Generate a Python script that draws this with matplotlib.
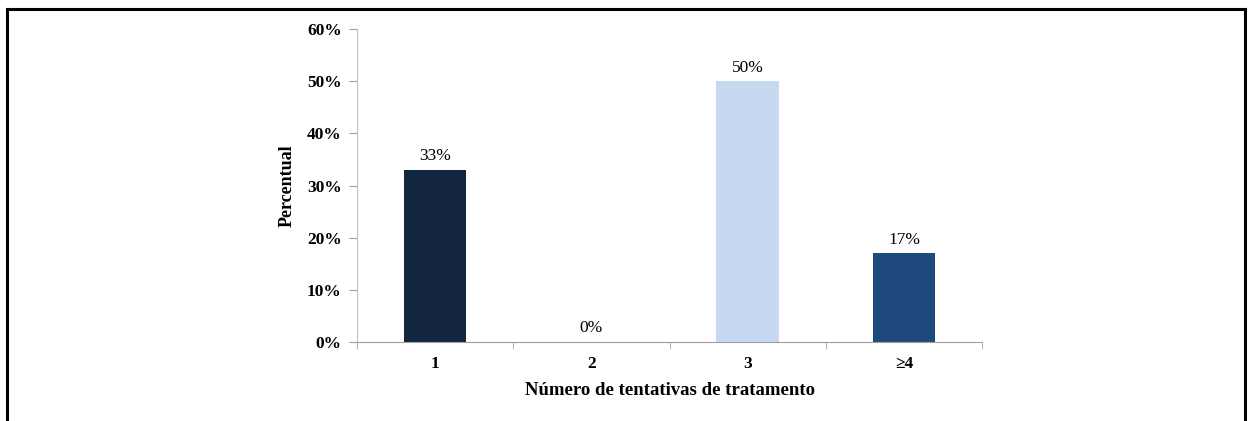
import matplotlib
matplotlib.use("Agg")
import matplotlib.pyplot as plt
import numpy as np
from matplotlib.lines import Line2D
from matplotlib.ticker import FixedLocator, PercentFormatter

categorias = ["1", "2", "3", "\u22654"]
percentual = [33, 0, 50, 17]
cores = ["#13263F", "#4F81BD", "#C6D9F1", "#1F497D"]
yticks = [0, 10, 20, 30, 40, 50, 60]

plt.rcParams["font.family"] = ["Liberation Serif", "DejaVu Serif"]


def init():
    fig = plt.figure(figsize = (12.48, 4.21), dpi = 100)
    ax = fig.add_axes([0.286, 0.1876, 0.501, 0.7434])

    x = np.arange(len(categorias))
    ax.bar(x, percentual, width = 0.4, color = cores, zorder = 2)

    for xi, v in zip(x, percentual):
        ax.annotate("{}%".format(v), (xi, v), xytext = (0, 4), textcoords = "offset points",
                    ha = "center", va = "bottom", fontsize = 12.5)

    ax.set_xlim(-0.5, len(categorias) - 0.5)
    ax.set_ylim(0, 60)
    ax.set_yticks(yticks)
    ax.yaxis.set_major_formatter(PercentFormatter(decimals = 0))

    ax.set_xticks(x)
    ax.set_xticklabels(categorias)
    ax.xaxis.set_minor_locator(FixedLocator(np.arange(len(categorias) + 1) - 0.5))
    ax.tick_params(axis = "x", which = "major", length = 0, pad = 10)
    ax.tick_params(axis = "x", which = "minor", length = 5, color = "#A0A0A0")
    ax.tick_params(axis = "y", length = 6, color = "#A0A0A0", pad = 5)

    for lab in ax.get_xticklabels() + ax.get_yticklabels():
        lab.set_fontweight("bold")
        lab.set_fontsize(12.5)

    for s in ["top", "right"]:
        ax.spines[s].set_visible(False)
    ax.spines["left"].set_color("#C0C0C0")
    ax.spines["bottom"].set_color("#A0A0A0")

    ax.set_ylabel("Percentual", fontsize = 13, fontweight = "bold", labelpad = 8)
    ax.set_xlabel("N\u00famero de tentativas de tratamento", fontsize = 13.5, fontweight = "bold", labelpad = 7)

    # moldura
    lw = 2.2
    fig.add_artist(Line2D([0.0056, 0.0056], [0, 0.979], color = "black", lw = lw, transform = fig.transFigure))
    fig.add_artist(Line2D([0.9976, 0.9976], [0, 0.979], color = "black", lw = lw, transform = fig.transFigure))
    fig.add_artist(Line2D([0.0056, 0.9976], [0.979, 0.979], color = "black", lw = lw, transform = fig.transFigure))

    fig.savefig("out.png", dpi = 100)


if __name__ == "__main__":
    init()
